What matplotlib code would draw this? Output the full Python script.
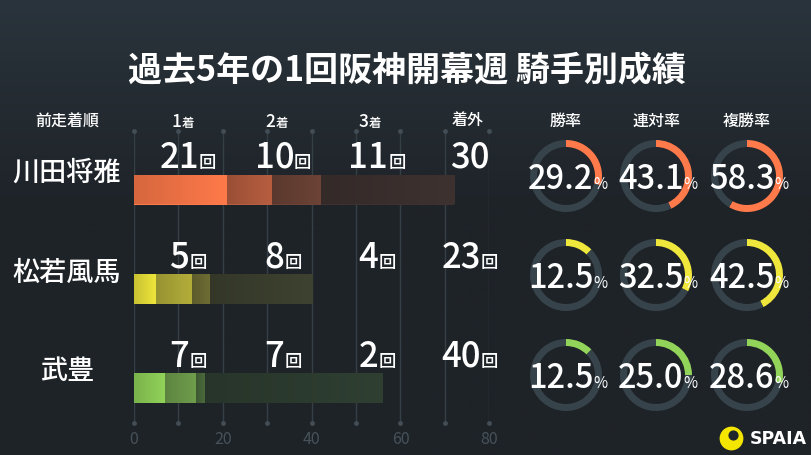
import numpy as np
import matplotlib
matplotlib.use("Agg")
import matplotlib.pyplot as plt
from matplotlib.colors import to_rgb

plt.rcParams['font.family'] = ['Noto Sans CJK JP', 'DejaVu Sans']

# ---- data ----
title = "過去5年の1回阪神開幕週 騎手別成績"
jockeys = ["川田将雅", "松若風馬", "武豊"]
first = [21, 5, 7]
second = [10, 8, 7]
third = [11, 4, 2]
outside = [30, 23, 40]
win_rate = [29.2, 12.5, 12.5]
ren_rate = [43.1, 32.5, 25.0]
fuku_rate = [58.3, 42.5, 28.6]
col_headers = ["1", "2", "3"]
rate_headers = ["勝率", "連対率", "複勝率"]
xticks = [0, 20, 40, 60, 80]

# ---- styles ----
BG = "#1f252a"
row_colors = [
    ["#ff7a4a", "#b85e40", "#6c4336", "#3e3230"],
    ["#efe73c", "#b3ae3a", "#6e6d34", "#3e4230"],
    ["#92d45a", "#6f9e4c", "#4a6a3c", "#2f3f32"],
]
TRACK = "#37434b"
GRID = "#353f46"
W, H = 812, 456

fig = plt.figure(figsize=(W / 100, H / 100), dpi=100)
fig.patch.set_facecolor(BG)

# background gradient
bgax = fig.add_axes([0, 0, 1, 1], zorder=-10)
grad = np.linspace(0, 1, 256).reshape(-1, 1)
top = np.array(to_rgb("#2a343c"))
bot = np.array(to_rgb("#1e2328"))
k = np.clip(grad * 2.2, 0, 1)[..., None]
img = top[None, None, :] * (1 - k) + bot[None, None, :] * k
bgax.imshow(img, aspect="auto", extent=[0, 1, 0, 1])
bgax.axis("off")

# overlay axes in pixel coordinates
ov = fig.add_axes([0, 0, 1, 1], zorder=5)
ov.set_xlim(0, W)
ov.set_ylim(H, 0)
ov.axis("off")
ov.patch.set_alpha(0)

# ---- bar axes ----
x0_px, x1_px = 134, 489.3
y_top_px, y_bot_px = 132, 424
row_px = [190.5, 290, 389]
ppr = (row_px[2] - row_px[0]) / 2
ax = fig.add_axes([x0_px / W, (H - y_bot_px) / H, (x1_px - x0_px) / W, (y_bot_px - y_top_px) / H], zorder=2)
ax.patch.set_alpha(0)
ylim = ((y_bot_px - row_px[0]) / ppr, (y_top_px - row_px[0]) / ppr)
for s in ax.spines.values():
    s.set_visible(False)
ax.set_yticks([])
ax.set_xticks([])

for gx in range(0, 81, 10):
    ax.axvline(gx, color=GRID, lw=1, zorder=0)
    ax.plot([gx, gx], [ylim[0], ylim[1]], 'o', color="#434d55",
            ms=3.5, clip_on=False, zorder=1, markeredgewidth=0)

ypos = np.arange(len(jockeys))
bar_h = 30 / ppr
lefts = np.zeros(len(jockeys))
for si, seg in enumerate([first, second, third, outside]):
    bars = ax.barh(ypos, seg, left=lefts, height=bar_h, color=[row_colors[r][si] for r in range(3)],
                   zorder=3, linewidth=0)
    for r, b in enumerate(bars):
        c = np.array(to_rgb(row_colors[r][si]))
        g = np.linspace(0.84, 1.0, 64)
        gi = np.clip(c[None, None, :] * g[None, :, None], 0, 1)
        x, y_ = b.get_x(), b.get_y()
        im = ax.imshow(gi, aspect="auto", extent=[x, x + b.get_width(), y_ + b.get_height(), y_],
                       zorder=4, interpolation="bilinear")
        im.set_clip_path(b)
    lefts = lefts + np.array(seg)
ax.set_xlim(0, 80)
ax.set_ylim(*ylim)

for t in xticks:
    ov.text(x0_px + t * (x1_px - x0_px) / 80, 440, str(t), color="#47525a", fontsize=11.5,
            ha="center", va="center")

renderer = fig.canvas.get_renderer()


def combo(cx, base, main, suffix, s1, s2, w1="medium", w2="medium", color="white"):
    t1 = ov.text(cx, base, main, fontsize=s1, color=color, ha="left", va="baseline", fontweight=w1)
    t2 = ov.text(cx, base, suffix, fontsize=s2, color=color, ha="left", va="baseline", fontweight=w2)
    a = t1.get_window_extent(renderer).width
    b = t2.get_window_extent(renderer).width
    left = cx - (a + b) / 2
    t1.set_x(left)
    t2.set_x(left + a)


# title
ov.text(407, 71, title, fontsize=24.5, color="white", ha="center", va="center", fontweight="bold")

# headers
ov.text(67, 122, "前走着順", fontsize=11.5, color="white", ha="center", va="center", fontweight="medium")
hdr_x = [183, 277, 370]
for hx, h in zip(hdr_x, col_headers):
    combo(hx, 127, h, "着", 12.5, 9)
ov.text(468, 121, "着外", fontsize=11.5, color="white", ha="center", va="center", fontweight="medium")
donut_x = [566, 656, 747]
for dx, h in zip(donut_x, rate_headers):
    ov.text(dx, 121, h, fontsize=11.5, color="white", ha="center", va="center", fontweight="medium")

# rows
count_x = [188, 283, 377, 470]
count_base = [168, 268, 367]
donut_y = [177, 276, 376]
for r, name in enumerate(jockeys):
    ov.text(67, row_px[r] - 17, name, fontsize=19.5, color="white", ha="center", va="center",
            fontweight="medium")
    vals = [first[r], second[r], third[r], outside[r]]
    for ci, v in enumerate(vals):
        if r == 0 and ci == 3:
            ov.text(count_x[ci], count_base[r], str(v), fontsize=25, color="white", ha="center",
                    va="baseline", fontweight="medium")
        else:
            combo(count_x[ci], count_base[r], str(v), "回", 25, 12.5)
    rates = [win_rate[r], ren_rate[r], fuku_rate[r]]
    for di, rv in enumerate(rates):
        dcx, dcy = donut_x[di], donut_y[r]
        R = 36
        pax = fig.add_axes([(dcx - R) / W, (H - dcy - R) / H, 2 * R / W, 2 * R / H], zorder=3)
        pax.pie([rv, 100 - rv], colors=[row_colors[r][0], TRACK], startangle=90, counterclock=False,
                radius=1.0, wedgeprops=dict(width=7 / 36, linewidth=0))
        pax.set_xlim(-1, 1)
        pax.set_ylim(-1, 1)
        pax.axis("off")
        combo(dcx + 2, dcy + 12, f"{rv:.1f}", "%", 23.5, 11, w1="medium", w2="normal")

# logo
ov.text(750, 439, "SPAIA", fontsize=12.5, color="white", ha="left", va="center", fontweight="bold",
        family=["DejaVu Sans"])
ov.scatter([731], [439], s=260, color="#f5e600", marker="o", zorder=6)
ov.scatter([733], [436], s=40, color=BG, marker="o", zorder=7)

fig.savefig("out.png", dpi=100, facecolor=BG)
